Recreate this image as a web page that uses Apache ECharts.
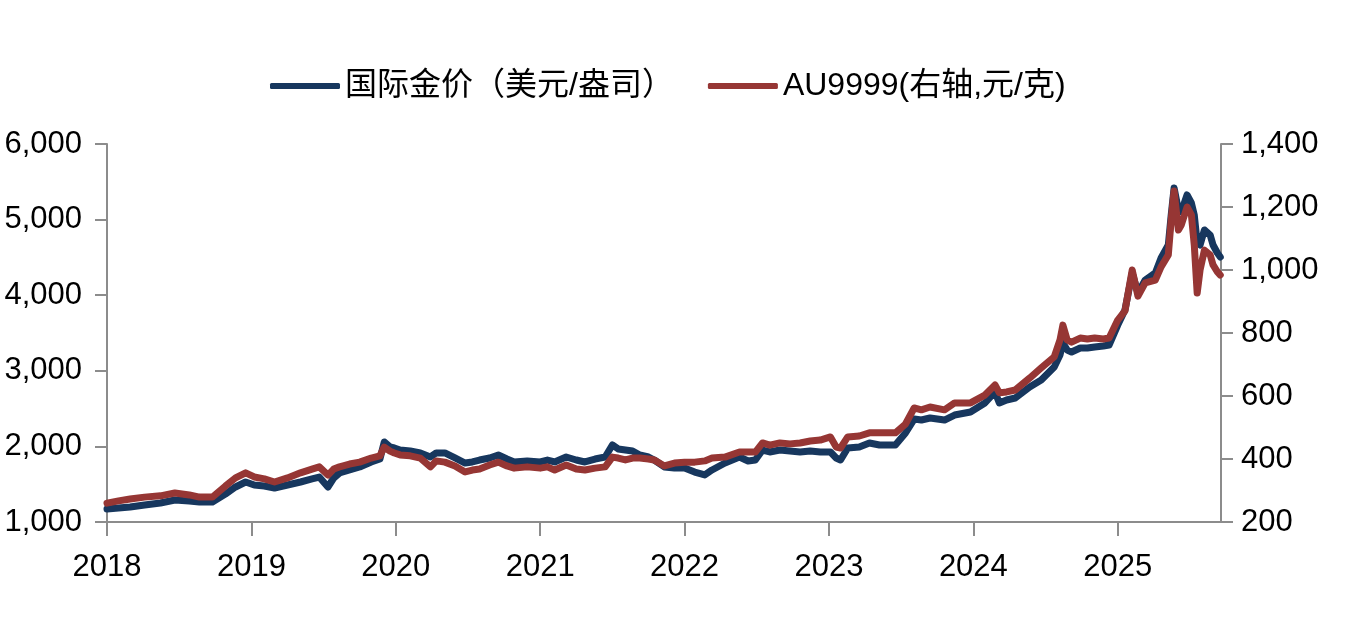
<!DOCTYPE html>
<html>
<head>
<meta charset="utf-8">
<script src="https://cdn.jsdelivr.net/npm/echarts@6/dist/echarts.min.js"></script>
<style>
  html, body { margin: 0; padding: 0; background: #fff; }
  #goldChart { width: 1348px; height: 638px; }
</style>
</head>
<body>
<div id="goldChart"></div>
<script>
// 年份（小数表示）
var dates = [2018.00, 2018.08, 2018.16, 2018.26, 2018.37, 2018.47, 2018.57, 2018.64, 2018.73, 2018.82,
  2018.89, 2018.96, 2019.02, 2019.09, 2019.16, 2019.25, 2019.34, 2019.42, 2019.47, 2019.53,
  2019.57, 2019.61, 2019.68, 2019.75, 2019.83, 2019.89, 2019.92, 2019.96, 2019.99, 2020.03,
  2020.10, 2020.17, 2020.24, 2020.28, 2020.34, 2020.41, 2020.48, 2020.53, 2020.58, 2020.65,
  2020.71, 2020.77, 2020.82, 2020.91, 2021.00, 2021.05, 2021.10, 2021.18, 2021.25, 2021.31,
  2021.38, 2021.45, 2021.50, 2021.54, 2021.59, 2021.64, 2021.69, 2021.75, 2021.79, 2021.86,
  2021.93, 2022.00, 2022.07, 2022.14, 2022.19, 2022.28, 2022.38, 2022.44, 2022.49, 2022.54,
  2022.59, 2022.66, 2022.73, 2022.80, 2022.87, 2022.94, 2023.01, 2023.05, 2023.08, 2023.13,
  2023.21, 2023.28, 2023.35, 2023.46, 2023.53, 2023.59, 2023.64, 2023.70, 2023.80, 2023.87,
  2023.98, 2024.08, 2024.15, 2024.18, 2024.23, 2024.29, 2024.39, 2024.47, 2024.56, 2024.60,
  2024.62, 2024.65, 2024.68, 2024.74, 2024.79, 2024.84, 2024.90, 2024.94, 2025.00, 2025.05,
  2025.10, 2025.14, 2025.19, 2025.26, 2025.30, 2025.35, 2025.37, 2025.39, 2025.42, 2025.44,
  2025.48, 2025.51, 2025.53, 2025.55, 2025.57, 2025.60, 2025.64, 2025.66, 2025.69, 2025.71];

// 国际金价（美元/盎司）
var goldUsd = [1172, 1185, 1198, 1225, 1251, 1291, 1278, 1265, 1265, 1370,
  1463, 1529, 1489, 1476, 1450, 1489, 1529, 1569, 1595, 1463,
  1582, 1648, 1688, 1728, 1794, 1833, 2058, 1992, 1979, 1952,
  1939, 1913, 1860, 1913, 1913, 1847, 1780, 1794, 1820, 1847,
  1886, 1833, 1794, 1807, 1794, 1820, 1794, 1860, 1820, 1794,
  1833, 1860, 2019, 1966, 1952, 1939, 1886, 1860, 1820, 1728,
  1714, 1714, 1661, 1622, 1688, 1780, 1860, 1807, 1820, 1952,
  1926, 1952, 1939, 1926, 1939, 1926, 1926, 1847, 1820, 1979,
  1992, 2045, 2019, 2019, 2177, 2362, 2349, 2376, 2349, 2415,
  2455, 2574, 2720, 2574, 2614, 2640, 2786, 2878, 3050, 3209,
  3368, 3275, 3249, 3302, 3302, 3315, 3328, 3341, 3606, 3804,
  4294, 4029, 4201, 4294, 4492, 4664, 5061, 5418, 5127, 5101,
  5326, 5220, 5061, 4691, 4664, 4863, 4796, 4664, 4558, 4505];

// AU9999（元/克，右轴）
var au9999 = [260, 267, 273, 279, 283, 292, 286, 279, 279, 314,
  340, 356, 343, 337, 327, 340, 356, 368, 375, 349,
  368, 375, 384, 390, 403, 410, 438, 425, 419, 413,
  410, 403, 375, 394, 390, 378, 359, 365, 368, 381,
  390, 378, 371, 375, 371, 375, 365, 381, 368, 365,
  371, 375, 406, 403, 397, 403, 403, 400, 397, 378,
  387, 390, 390, 394, 403, 406, 422, 422, 422, 451,
  444, 451, 448, 451, 457, 460, 470, 438, 435, 470,
  473, 483, 483, 483, 511, 562, 556, 565, 556, 578,
  578, 603, 635, 610, 613, 619, 657, 689, 724, 778,
  825, 778, 771, 784, 781, 784, 781, 784, 841, 870,
  1000, 917, 959, 968, 1010, 1048, 1159, 1251, 1127, 1143,
  1200, 1175, 1079, 927, 1000, 1063, 1048, 1016, 994, 984];

var yearTicks = [2018, 2019, 2020, 2021, 2022, 2023, 2024, 2025];
var seriesNames = ['国际金价（美元/盎司）', 'AU9999(右轴,元/克)'];

window.onload = function () {
  var chart = echarts.init(document.getElementById('goldChart'));

  var fontFamily = "'Liberation Sans', Arial, 'Noto Sans CJK SC', sans-serif";
  var axisColor = '#8c8c8c';

  function withComma(v) {
    return String(v).replace(/\B(?=(\d{3})+(?!\d))/g, ',');
  }

  var goldData = dates.map(function (d, i) { return [d, goldUsd[i]]; });
  var auData = dates.map(function (d, i) { return [d, au9999[i]]; });

  var option = {
    animation: false,
    textStyle: { fontFamily: fontFamily },
    legend: {
      top: 65,
      left: 265,
      itemWidth: 70,
      itemHeight: 6,
      itemGap: 34,
      icon: 'roundRect',
      textStyle: { fontSize: 32, color: '#000', fontFamily: fontFamily },
      data: seriesNames
    },
    grid: {
      left: 107,
      right: 127,
      top: 144,
      bottom: 116
    },
    xAxis: {
      type: 'value',
      min: 2018,
      max: 2025.715,
      interval: 1,
      splitLine: { show: false },
      axisLine: { onZero: false, lineStyle: { color: axisColor, width: 2 } },
      axisTick: { show: true, length: 14, customValues: yearTicks, lineStyle: { color: axisColor, width: 2 } },
      axisLabel: {
        customValues: yearTicks,
        margin: 30,
        fontSize: 31,
        color: '#000',
        formatter: function (v) { return String(v); }
      }
    },
    yAxis: [{
      type: 'value',
      min: 1000,
      max: 6000,
      interval: 1000,
      splitLine: { show: false },
      axisLine: { show: true, lineStyle: { color: axisColor, width: 2 } },
      axisTick: { show: true, length: 12, lineStyle: { color: axisColor, width: 2 } },
      axisLabel: { margin: 25, fontSize: 31, color: '#000', formatter: withComma }
    }, {
      type: 'value',
      min: 200,
      max: 1400,
      interval: 200,
      position: 'right',
      splitLine: { show: false },
      axisLine: { show: true, lineStyle: { color: axisColor, width: 2 } },
      axisTick: { show: true, length: 12, lineStyle: { color: axisColor, width: 2 } },
      axisLabel: { margin: 20, fontSize: 31, color: '#000', formatter: withComma }
    }],
    series: [{
      name: seriesNames[0],
      type: 'line',
      yAxisIndex: 0,
      data: goldData,
      showSymbol: false,
      symbol: 'none',
      itemStyle: { color: '#17375e' },
      lineStyle: { color: '#17375e', width: 7, join: 'round', cap: 'round' }
    }, {
      name: seriesNames[1],
      type: 'line',
      yAxisIndex: 1,
      data: auData,
      showSymbol: false,
      symbol: 'none',
      itemStyle: { color: '#963634' },
      lineStyle: { color: '#963634', width: 7, join: 'round', cap: 'round' }
    }]
  };

  chart.setOption(option);
};
</script>
</body>
</html>
